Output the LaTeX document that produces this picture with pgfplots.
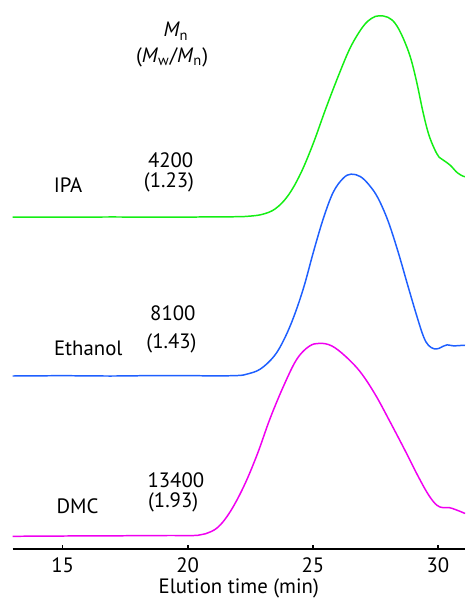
\documentclass[border=0pt]{standalone}
\usepackage{fontspec}
\setmainfont{PT Sans}
\usepackage{pgfplots}
\pgfplotsset{compat=1.18}
\definecolor{cgreen}{RGB}{20,238,20}
\definecolor{cblue}{RGB}{30,95,255}
\definecolor{cmag}{RGB}{240,0,240}
\newcommand{\fs}{\fontsize{10.5}{12.6}\selectfont}
\begin{document}
\begin{tikzpicture}
\begin{axis}[
  scale only axis,
  width=228.6pt, height=277.5pt,
  xmin=13, xmax=31.08, ymin=0, ymax=555,
  axis x line*=bottom,
  hide y axis,
  x axis line style={-, line width=0.9pt},
  xtick={15,20,25,30},
  minor xtick={},
  tick align=inside,
  major tick length=2.3pt,
  tick style={black, line width=0.8pt},
  /pgf/number format/assume math mode=true,
  ticklabel style={font=\fs},
  xticklabel style={yshift=-1pt},
  xlabel={Elution time (min)},
  xlabel style={font=\fs, at={(axis description cs:0.5,-0.072)}, anchor=center},
  clip=false,
]
\addplot[cgreen, line width=0.75pt, smooth, tension=0.6] coordinates {
(13,335.5) (15,335.5) (17,335.7) (19,335.5) (21,335.8) (22,336) (22.5,336.6)
(23.0,338.5) (23.5,344) (24.0,357) (24.5,379) (25.0,409) (25.5,444) (26.0,477)
(26.5,507) (27.0,528) (27.35,536.5) (27.64,539) (28.0,537.5) (28.3,531)
(28.6,517) (28.9,497) (29.15,472) (29.4,442) (29.62,420) (29.85,405)
(30.05,396) (30.25,392.5) (30.49,388) (30.77,380.5) (31.00,377) (31.08,376.5)
};
\addplot[cblue, line width=0.75pt, smooth, tension=0.6] coordinates {
(13,175) (15,175.3) (17,175) (19,175.5) (21,175.2) (22,175.5) (22.38,177)
(22.90,182) (23.45,195) (23.85,212) (24.24,235) (24.64,265) (25.03,301)
(25.43,335) (25.82,361) (26.22,375) (26.53,379) (26.9,376.5) (27.25,368)
(27.60,355) (28.0,332) (28.4,301) (28.8,266) (29.15,236) (29.42,215)
(29.62,206) (29.85,202.5) (30.05,203) (30.2,205) (30.37,206.5) (30.61,205.5)
(31.00,206) (31.08,206)
};
\addplot[cmag, line width=0.75pt, smooth, tension=0.6] coordinates {
(13,13) (15,13.3) (17,13.5) (19,13.8) (20,13.8) (20.4,14) (20.7,15.5)
(21.2,22) (21.7,38) (22.25,64) (22.78,96) (23.29,132) (23.85,166)
(24.36,192) (24.85,205) (25.27,208) (25.75,205.5) (26.3,195) (26.9,179)
(27.5,156) (28.1,128) (28.7,99) (29.2,74) (29.62,55) (29.95,44.5) (30.2,42)
(30.45,42) (30.7,40) (31.00,37) (31.08,36)
};
\node[font=\fs, anchor=base] at (axis cs:19.535,517.7) {\textit{M}\textsubscript{n}};
\node[font=\fs, anchor=base] at (axis cs:19.377,491.7) {(\textit{M}\textsubscript{w}/\textit{M}\textsubscript{n})};
\node[font=\fs, anchor=base] at (axis cs:19.318,385.7) {4200};
\node[font=\fs, anchor=base] at (axis cs:19.251,365) {(1.23)};
\node[font=\fs, anchor=base] at (axis cs:15.217,360) {IPA};
\node[font=\fs, anchor=base] at (axis cs:19.405,231) {8100};
\node[font=\fs, anchor=base] at (axis cs:19.35,202.3) {(1.43)};
\node[font=\fs, anchor=base] at (axis cs:16.024,196) {Ethanol};
\node[font=\fs, anchor=base] at (axis cs:15.593,36.3) {DMC};
\node[font=\fs, anchor=base] at (axis cs:19.527,62.7) {13400};
\node[font=\fs, anchor=base] at (axis cs:19.417,42.3) {(1.93)};
\path (axis cs:12.497,-50) rectangle (axis cs:31.08,555);
\end{axis}
\end{tikzpicture}
\end{document}
